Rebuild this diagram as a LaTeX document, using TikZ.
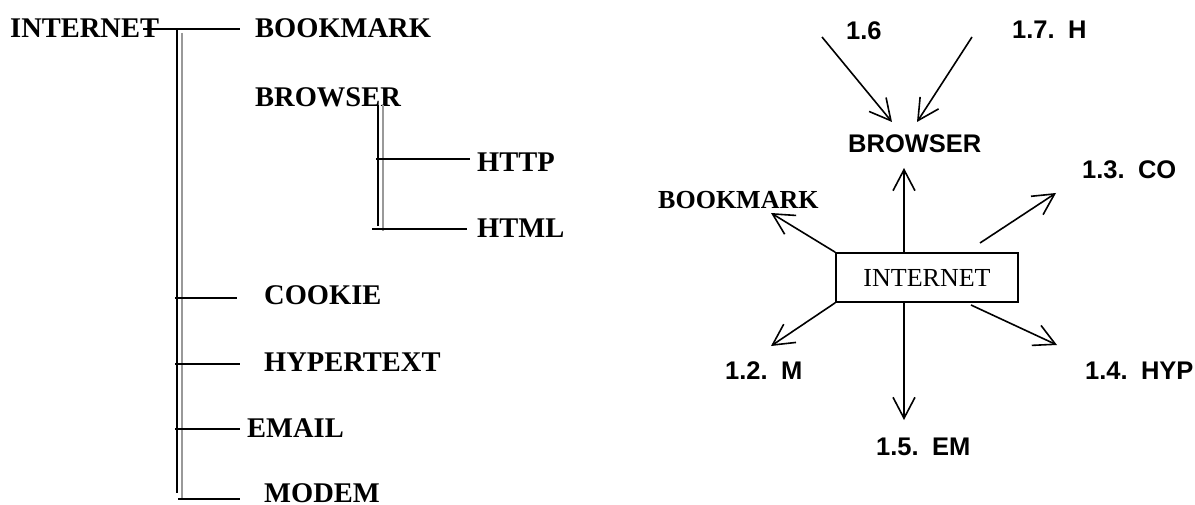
\documentclass[tikz,border=0pt]{standalone}
\usepackage{fontspec}
\usetikzlibrary{arrows.meta}
\newfontfamily\tnr{Liberation Serif}
\newfontfamily\ari{Liberation Sans}
\newcommand\mygap{\kern0.52em}
\begin{document}
\begin{tikzpicture}[x=1pt,y=-1pt,
  lbl/.style={inner sep=0pt, anchor=west, font=\tnr\bfseries\fontsize{28.5}{30}\selectfont},
  rlbl/.style={inner sep=0pt, anchor=west, font=\tnr\bfseries\fontsize{26}{28}\selectfont},
  num/.style={inner sep=0pt, anchor=west, font=\ari\bfseries\fontsize{25.5}{28}\selectfont},
  blk/.style={draw=black, line width=1.7pt},
  gry/.style={draw=black!40, line width=1.7pt},
  arr/.style={draw=black, line width=1.6pt, -{Straight Barb[length=21pt,width=22pt,line width=1.6pt]}},
]
\useasboundingbox (0,0) rectangle (1195,505);

% ---------- left tree ----------
\node[lbl] (iL) at (10,28) {INTERNET};
\node[lbl] (bmL) at (255,28) {BOOKMARK};
\node[lbl] (brL) at (255,97) {BROWSER};
\node[lbl] (http) at (477,162) {HTTP};
\node[lbl] (html) at (477,228) {HTML};
\node[lbl] (ck) at (264,295) {COOKIE};
\node[lbl] (ht) at (264,362) {HYPERTEXT};
\node[lbl] (em) at (247,428) {EMAIL};
\node[lbl] (md) at (264,493) {MODEM};

\coordinate (t0) at (143,29);
\coordinate (t1) at (240,29);
\draw[blk] (t0) -- (t1);
\coordinate (vb0) at (177,29);
\coordinate (vb1) at (177,493);
\coordinate (vg0) at (182,33);
\coordinate (vg1) at (182,498);
\draw[gry] (vg0) -- (vg1);
\draw[blk] (vb0) -- (vb1);

\coordinate (c0) at (175,298); \coordinate (c1) at (237,298);
\coordinate (h0) at (175,364); \coordinate (h1) at (240,364);
\coordinate (e0) at (175,429); \coordinate (e1) at (240,429);
\coordinate (m0) at (178,499); \coordinate (m1) at (240,499);
\draw[blk] (c0) -- (c1);
\draw[blk] (h0) -- (h1);
\draw[blk] (e0) -- (e1);
\draw[blk] (m0) -- (m1);

\coordinate (sb0) at (378,105); \coordinate (sb1) at (378,226);
\coordinate (sg0) at (383,105); \coordinate (sg1) at (383,231);
\draw[gry] (sg0) -- (sg1);
\draw[blk] (sb0) -- (sb1);
\coordinate (p0) at (376,159); \coordinate (p1) at (470,159);
\coordinate (q0) at (372,229); \coordinate (q1) at (467,229);
\draw[blk] (p0) -- (p1);
\draw[blk] (q0) -- (q1);

% ---------- right star ----------
\node[draw, line width=1.6pt, minimum width=182pt, minimum height=49pt, inner sep=0pt,
      font=\tnr\fontsize{26}{28}\selectfont] (box) at (927,277.5) {INTERNET};

\node[rlbl] (bmR) at (658,200) {BOOKMARK};
\node[num] (brR) at (848,144) {BROWSER};
\node[num] (n16) at (846,31) {1.6};
\node[num] (n17) at (1012,30) {1.7.\mygap H};
\node[num] (n13) at (1082,170) {1.3.\mygap CO};
\node[num] (n12) at (725,371) {1.2.\mygap M};
\node[num] (n14) at (1085,371) {1.4.\mygap HYP};
\node[num] (n15) at (876,447) {1.5.\mygap EM};

\coordinate (aBM) at (771,213);
\coordinate (aUp0) at (904,253); \coordinate (aUp) at (904,168);
\coordinate (aCO0) at (980,243); \coordinate (aCO) at (1056,193);
\coordinate (aM) at (771,346);
\coordinate (aDn0) at (904,303); \coordinate (aDn) at (904,420);
\coordinate (aH0) at (971,305); \coordinate (aH) at (1057,345);
\coordinate (a60) at (822,37); \coordinate (a6) at (892,122);
\coordinate (a70) at (972,37); \coordinate (a7) at (917,122);

\draw[arr] (box.north west) -- (aBM);
\draw[arr] (aUp0) -- (aUp);
\draw[arr] (aCO0) -- (aCO);
\draw[arr] (box.south west) -- (aM);
\draw[arr] (aDn0) -- (aDn);
\draw[arr] (aH0) -- (aH);
\draw[arr] (a60) -- (a6);
\draw[arr] (a70) -- (a7);
\end{tikzpicture}
\end{document}
